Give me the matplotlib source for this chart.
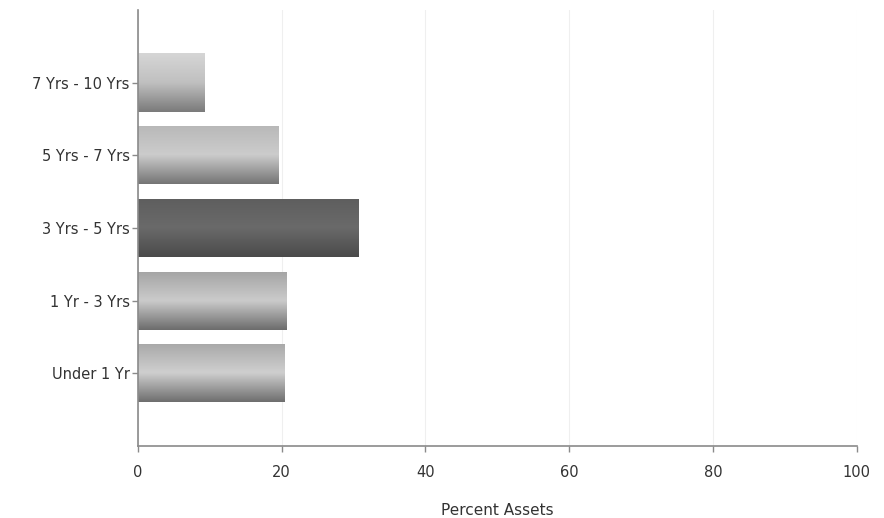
import numpy as np
import matplotlib
matplotlib.use("Agg")
import matplotlib.pyplot as plt
from matplotlib.colors import LinearSegmentedColormap

categories = ["Under 1 Yr", "1 Yr - 3 Yrs", "3 Yrs - 5 Yrs", "5 Yrs - 7 Yrs", "7 Yrs - 10 Yrs"]
values = [20.4, 20.7, 30.7, 19.6, 9.2]
x_ticks = [0, 20, 40, 60, 80, 100]

# shading per bar: (top, middle, bottom)
shades = [
    ("#a8a8a8", "#cfcfcf", "#6e6e6e"),
    ("#a4a4a4", "#cbcbcb", "#6c6c6c"),
    ("#5e5e5e", "#6a6a6a", "#4a4a4a"),
    ("#b8b8b8", "#cccccc", "#747474"),
    ("#d6d6d6", "#c0c0c0", "#7a7a7a"),
]

fig = plt.figure(figsize=(8.84, 5.18), dpi=100)
ax = fig.add_axes([0.156, 0.139, 0.813, 0.842])

ypos = np.arange(len(categories))
bars = ax.barh(ypos, values, height=0.8, color="none", edgecolor="none", zorder=2)

grad = np.linspace(0, 1, 256).reshape(-1, 1)
for bar, sh in zip(bars, shades):
    cmap = LinearSegmentedColormap.from_list("g", [sh[2], sh[1], sh[0]])
    x0, y0 = bar.get_x(), bar.get_y()
    w, h = bar.get_width(), bar.get_height()
    im = ax.imshow(grad, extent=[x0, x0 + w, y0, y0 + h], origin="lower",
                   aspect="auto", cmap=cmap, zorder=2, interpolation="bicubic")
    im.set_clip_path(bar)

ax.set_xlim(0, 100)
ax.set_ylim(-1, 5)
ax.set_xticks(x_ticks)
ax.set_xticklabels([str(t) for t in x_ticks])
ax.set_yticks(ypos)
ax.set_yticklabels(categories)

ax.grid(axis="x", color="#efefef", linewidth=0.8, zorder=0)
ax.set_axisbelow(True)

for s in ["top", "right"]:
    ax.spines[s].set_visible(False)
for s in ["left", "bottom"]:
    ax.spines[s].set_color("#8a8a8a")
    ax.spines[s].set_linewidth(1.2)

ax.tick_params(axis="both", colors="#8a8a8a", labelcolor="#333333",
               labelsize=10.5, length=4, width=1)
ax.tick_params(axis="x", pad=10)
ax.tick_params(axis="y", pad=2)

ax.set_xlabel("Percent Assets", fontsize=11, color="#333333", labelpad=16)

fig.savefig("out.png", dpi=100)
